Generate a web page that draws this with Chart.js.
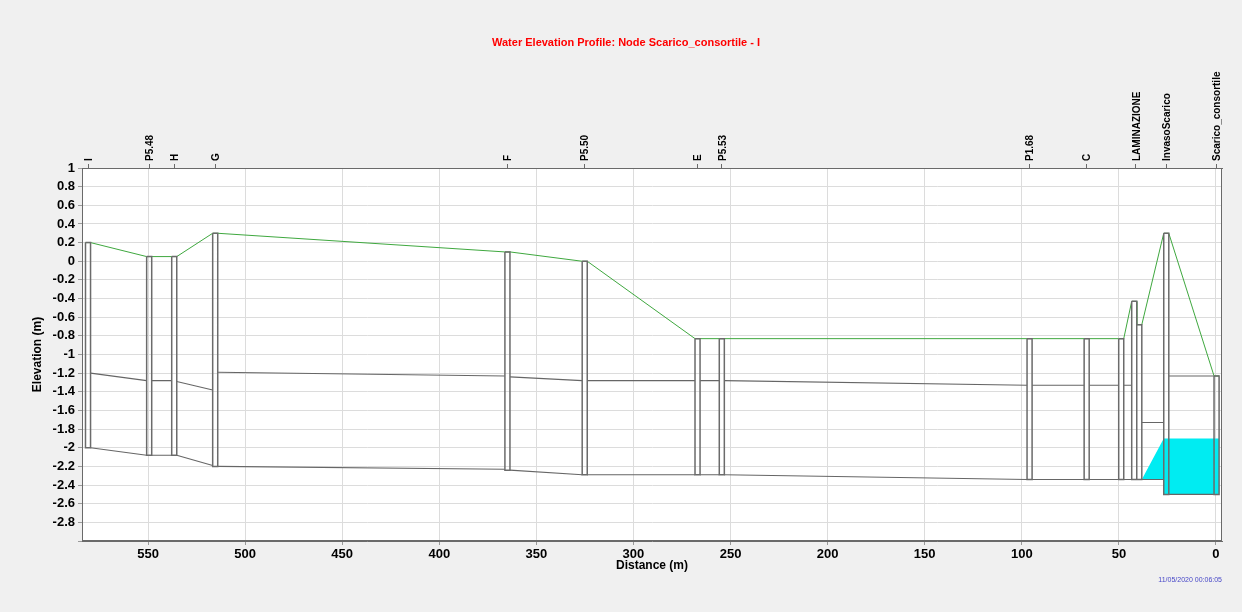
<!DOCTYPE html>
<html>
<head>
<meta charset="utf-8">
<title>Water Elevation Profile</title>
<script src="https://cdn.jsdelivr.net/npm/chart.js@4/dist/chart.umd.min.js"></script>
<style>
  html, body { margin: 0; padding: 0; background: #f0f0f0; }
  #profile { display: block; }
</style>
</head>
<body>
<canvas id="profile" width="1242" height="612"></canvas>
<script>
// labelled nodes along the profile (distance from outlet, m)
const nodeNames = ['I', 'P5.48', 'H', 'G', 'F', 'P5.50', 'E', 'P5.53', 'P1.68', 'C', 'LAMINAZIONE', 'InvasoScarico', 'Scarico_consortile'];
const nodeDist = [580.9, 549.4, 536.5, 515.4, 364.9, 325.1, 267.0, 254.5, 96.0, 66.6, 41.2, 25.6, -0.3];

// manholes / shafts drawn as narrow boxes
const shaftDist = [580.9, 549.4, 536.5, 515.4, 364.9, 325.1, 267.0, 254.5, 96.0, 66.6, 48.8, 42.1, 39.5, 25.6, -0.3];
const shaftTop = [0.2, 0.05, 0.05, 0.3, 0.1, 0.0, -0.83, -0.83, -0.83, -0.83, -0.83, -0.43, -0.68, 0.3, -1.23];
const shaftBottom = [-2.0, -2.08, -2.08, -2.2, -2.24, -2.29, -2.29, -2.29, -2.34, -2.34, -2.34, -2.34, -2.34, -2.5, -2.5];

// conduits between consecutive shafts (upstream end / downstream end)
const crownUp = [-1.2, -1.28, -1.29, -1.19, -1.24, -1.28, -1.28, -1.28, -1.33, -1.33, -1.33, null, -1.73, -1.23];
const crownDn = [-1.28, -1.28, -1.38, -1.23, -1.28, -1.28, -1.28, -1.33, -1.33, -1.33, -1.33, null, -1.73, -1.23];
const invertUp = [-2.0, -2.08, -2.08, -2.2, -2.24, -2.29, -2.29, -2.29, -2.34, -2.34, -2.34, null, -2.34, -2.5];
const invertDn = [-2.08, -2.08, -2.19, -2.23, -2.29, -2.29, -2.29, -2.34, -2.34, -2.34, -2.34, null, -2.34, -2.5];

// water body (cyan)
const waterDist = [38.2, 26.9, -1.6, -1.6, 26.9, 26.9];
const waterElev = [-2.34, -1.9, -1.9, -2.5, -2.5, -2.34];

const xTicks = [550, 500, 450, 400, 350, 300, 250, 200, 150, 100, 50, 0];

const halfW = 1.3; // half width of a shaft box, m
const GAP = { x: null, y: null };

// build boxes
const shaftPts = [];
shaftDist.forEach((d, i) => {
    shaftPts.push(
        { x: d + halfW, y: shaftTop[i] },
        { x: d - halfW, y: shaftTop[i] },
        { x: d - halfW, y: shaftBottom[i] },
        { x: d + halfW, y: shaftBottom[i] },
        { x: d + halfW, y: shaftTop[i] },
        GAP
    );
});

// ground line over the shaft tops
const groundPts = [];
shaftDist.forEach((d, i) => {
    groundPts.push({ x: d + halfW, y: shaftTop[i] }, { x: d - halfW, y: shaftTop[i] });
});

function linkLine(up, dn) {
    const pts = [];
    for (let i = 0; i < up.length; i++) {
        if (up[i] === null) continue;
        pts.push({ x: shaftDist[i] - halfW, y: up[i] }, { x: shaftDist[i + 1] + halfW, y: dn[i] }, GAP);
    }
    return pts;
}

const waterPts = waterDist.map((d, i) => ({ x: d, y: waterElev[i] }));

const plotBackground = {
    id: 'plotBackground',
    beforeDraw(chart) {
        const { ctx, chartArea: a } = chart;
        ctx.save();
        ctx.fillStyle = '#f0f0f0';
        ctx.fillRect(0, 0, chart.width, chart.height);
        ctx.fillStyle = '#ffffff';
        ctx.fillRect(a.left, a.top, a.right - a.left, a.bottom - a.top);
        ctx.restore();
    },
    afterDatasetsDraw(chart) {
        const { ctx, chartArea: a } = chart;
        ctx.save();
        ctx.strokeStyle = '#6a6a6a';
        ctx.lineWidth = 1;
        ctx.strokeRect(a.left + 0.5, a.top + 0.5, a.right - a.left - 1, a.bottom - a.top - 1);
        ctx.restore();
    }
};

const fontFamily = '"Liberation Sans", Arial, sans-serif';

const ctx = document.getElementById('profile');
const profileChart = new Chart(ctx, {
    type: 'scatter',
    data: {
        datasets: [
            {
                label: 'Shafts',
                data: shaftPts,
                showLine: true,
                borderColor: '#6b6b6b',
                borderWidth: 1.5,
                pointRadius: 0,
                spanGaps: false
            },
            {
                label: 'Crown',
                data: linkLine(crownUp, crownDn),
                showLine: true,
                borderColor: '#666666',
                borderWidth: 1.1,
                pointRadius: 0,
                spanGaps: false
            },
            {
                label: 'Invert',
                data: linkLine(invertUp, invertDn),
                showLine: true,
                borderColor: '#666666',
                borderWidth: 1.1,
                pointRadius: 0,
                spanGaps: false
            },
            {
                label: 'Ground',
                data: groundPts,
                showLine: true,
                borderColor: '#3fa83f',
                borderWidth: 1,
                pointRadius: 0
            },
            {
                label: 'Water',
                data: waterPts,
                showLine: true,
                fill: 'shape',
                backgroundColor: '#00ecf2',
                borderColor: '#00ecf2',
                borderWidth: 0,
                pointRadius: 0
            }
        ]
    },
    options: {
        responsive: false,
        animation: false,
        events: [],
        layout: {
            padding: { left: 30, right: 20, top: 0, bottom: 27.6 }
        },
        plugins: {
            legend: { display: false },
            tooltip: { enabled: false },
            title: {
                display: true,
                text: 'Water Elevation Profile: Node Scarico_consortile - I',
                color: '#ff0000',
                font: { family: fontFamily, size: 11, weight: 'bold' },
                padding: { top: 36, bottom: 0 }
            },
            subtitle: {
                display: true,
                position: 'bottom',
                align: 'end',
                text: '11/05/2020 00:06:05',
                color: '#4848c8',
                font: { family: fontFamily, size: 7 },
                padding: { top: 3, bottom: 0 }
            }
        },
        scales: {
            x: {
                type: 'linear',
                position: 'bottom',
                reverse: true,
                min: -3.1,
                max: 584,
                afterBuildTicks: axis => { axis.ticks = xTicks.map(v => ({ value: v })); },
                afterFit: axis => { axis.height = 32; },
                ticks: {
                    color: '#000',
                    font: { family: fontFamily, size: 13, weight: 'bold' },
                    padding: 2,
                    maxRotation: 0,
                    callback: v => String(v)
                },
                grid: { color: '#dcdcdc', tickLength: 4, tickColor: '#9a9a9a' },
                border: { display: true, color: '#6a6a6a' },
                title: {
                    display: true,
                    text: 'Distance (m)',
                    color: '#000',
                    font: { family: fontFamily, size: 12, weight: 'bold' },
                    padding: 0
                }
            },
            top: {
                type: 'linear',
                position: 'top',
                reverse: true,
                min: -3.1,
                max: 584,
                afterBuildTicks: axis => { axis.ticks = nodeDist.map(v => ({ value: v })); },
                afterFit: axis => { axis.height = 118.8; },
                ticks: {
                    autoSkip: false,
                    minRotation: 90,
                    maxRotation: 90,
                    padding: 3,
                    labelOffset: 13,
                    color: '#000',
                    font: { family: fontFamily, size: 10, weight: 'bold' },
                    callback: (v, i) => nodeNames[i]
                },
                grid: { drawOnChartArea: false, tickLength: 4, color: '#6a6a6a' },
                border: { display: true, color: '#6a6a6a' }
            },
            y: {
                type: 'linear',
                min: -3,
                max: 1,
                afterFit: axis => { axis.width = 52; },
                ticks: {
                    stepSize: 0.2,
                    padding: 3,
                    color: '#000',
                    font: { family: fontFamily, size: 13, weight: 'bold' },
                    callback: v => {
                        const r = Math.round(v * 10) / 10;
                        if (r <= -3) return '';
                        return String(r === 0 ? 0 : r);
                    }
                },
                grid: { color: '#dcdcdc', tickLength: 4, tickColor: '#9a9a9a' },
                border: { display: true, color: '#6a6a6a' },
                title: {
                    display: true,
                    text: 'Elevation (m)',
                    color: '#000',
                    font: { family: fontFamily, size: 12, weight: 'bold' },
                    padding: 0
                }
            }
        }
    },
    plugins: [plotBackground]
});
</script>
</body>
</html>
